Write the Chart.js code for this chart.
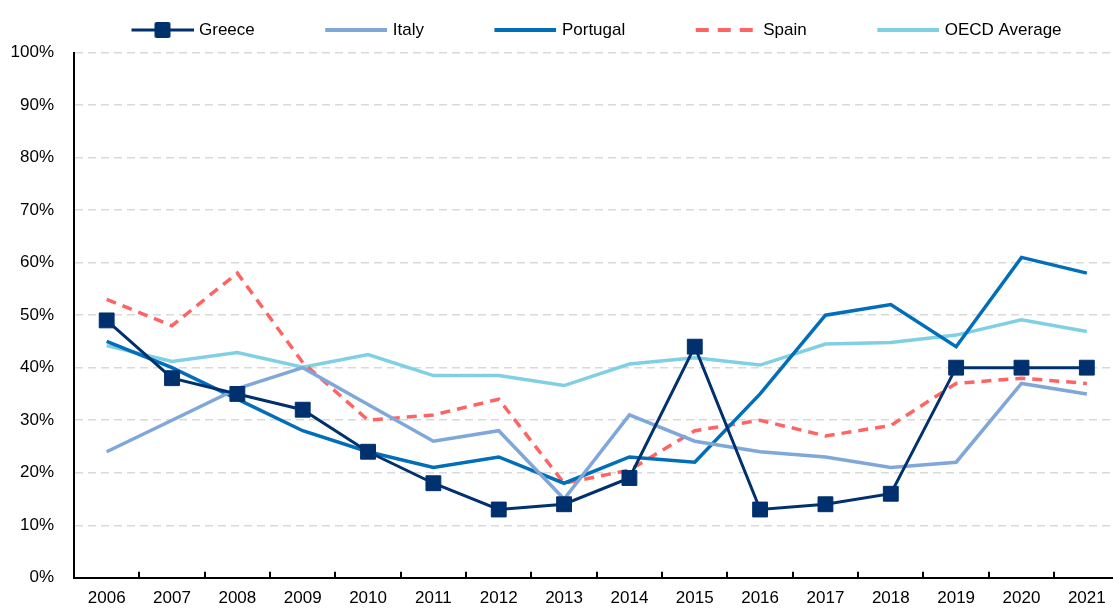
<!DOCTYPE html>
<html>
<head>
<meta charset="utf-8">
<title>Greece, Italy, Portugal, Spain and OECD average</title>
<script src="https://cdn.jsdelivr.net/npm/chart.js@4.4.1/dist/chart.umd.min.js"></script>
<style>
  html, body { margin: 0; padding: 0; background: #fff; overflow: hidden; }
  #wrap { position: relative; width: 1131px; height: 608px; }
</style>
</head>
<body>
<div id="wrap"><canvas id="chart" width="1131" height="608"></canvas></div>
<script>
const years = ['2006', '2007', '2008', '2009', '2010', '2011', '2012', '2013', '2014', '2015', '2016', '2017', '2018', '2019', '2020', '2021'];
const greece = [49, 38, 35, 32, 24, 18, 13, 14, 19, 44, 13, 14, 16, 40, 40, 40];
const italy = [24, 30, 36, 40, 33, 26, 28, 15, 31, 26, 24, 23, 21, 22, 37, 35];
const portugal = [45, 40, 34, 28, 24, 21, 23, 18, 23, 22, 35, 50, 52, 44, 61, 58];
const spain = [53, 48, 58, 41, 30, 31, 34, 18, 20.5, 28, 30, 27, 29, 37, 38, 37];
const oecd = [44.2, 41.2, 42.9, 40.1, 42.5, 38.5, 38.5, 36.6, 40.7, 41.9, 40.5, 44.5, 44.8, 46.2, 49.1, 46.9];
const yTicks = [0, 10, 20, 30, 40, 50, 60, 70, 80, 90, 100];

const NAVY = '#00306e';
const ITALY = '#7fa7da';
const PORTUGAL = '#006eb8';
const SPAIN = '#ff6464';
const OECD = '#80d0e4';

Chart.defaults.font.family = '"Liberation Sans", Arial, sans-serif';
Chart.defaults.font.size = 17;
Chart.defaults.color = '#000';

// legend icons: the transparent left part is the spacing between items,
// the icon is a bit wider than the legend box so the line ends close to the text
const BOX_W = 120;
const ICON_W = 126;
const LINE_X = 64;
const LEGEND_LEFT = 61;
const LEGEND_TOP = 12;
function makeIcon(color, width, dash, marker) {
  const c = document.createElement('canvas');
  c.width = ICON_W;
  c.height = 20;
  const ctx = c.getContext('2d');
  ctx.strokeStyle = color;
  ctx.lineWidth = width;
  ctx.setLineDash(dash);
  ctx.beginPath();
  ctx.moveTo(LINE_X, 10);
  ctx.lineTo(ICON_W, 10);
  ctx.stroke();
  if (marker) {
    const mx = LINE_X + (ICON_W - LINE_X) / 2;
    ctx.fillStyle = color;
    ctx.beginPath();
    if (ctx.roundRect) ctx.roundRect(mx - 8, 2, 16, 16, 2);
    else ctx.rect(mx - 8, 2, 16, 16);
    ctx.fill();
  }
  return c;
}
const legendIcons = [
  makeIcon(NAVY, 3, [], true),
  makeIcon(ITALY, 4, [], false),
  makeIcon(PORTUGAL, 4, [], false),
  makeIcon(SPAIN, 4, [13, 9], false),
  makeIcon(OECD, 4, [], false)
];

// move the legend row so it sits over the plot like the original
const legendShift = {
  id: 'legendShift',
  afterLayout(chart) {
    if (chart.legend) {
      chart.legend.left = LEGEND_LEFT;
      chart.legend.top = LEGEND_TOP;
    }
  }
};

new Chart(document.getElementById('chart'), {
  type: 'line',
  data: {
    labels: years,
    datasets: [
      {
        label: 'Greece',
        data: greece,
        borderColor: NAVY,
        backgroundColor: NAVY,
        borderWidth: 3,
        pointStyle: 'rect',
        pointRadius: 10.5,
        pointBorderWidth: 1,
        tension: 0
      },
      {
        label: 'Italy',
        data: italy,
        borderColor: ITALY,
        borderWidth: 3.5,
        pointRadius: 0,
        tension: 0
      },
      {
        label: 'Portugal',
        data: portugal,
        borderColor: PORTUGAL,
        borderWidth: 3.5,
        pointRadius: 0,
        tension: 0
      },
      {
        label: 'Spain',
        data: spain,
        borderColor: SPAIN,
        borderWidth: 3.5,
        borderDash: [10, 7],
        pointRadius: 0,
        tension: 0
      },
      {
        label: 'OECD Average',
        data: oecd,
        borderColor: OECD,
        borderWidth: 3.5,
        pointRadius: 0,
        tension: 0
      }
    ]
  },
  options: {
    responsive: false,
    animation: false,
    layout: { padding: { left: 8, right: 7, top: 16, bottom: 0 } },
    plugins: {
      tooltip: { enabled: false },
      legend: {
        align: 'start',
        labels: {
          usePointStyle: true,
          pointStyleWidth: BOX_W,
          padding: 9.5,
          color: '#000',
          font: { size: 17 },
          generateLabels: chart =>
            Chart.defaults.plugins.legend.labels.generateLabels(chart).map((item, i) => ({
              ...item,
              pointStyle: legendIcons[i]
            }))
        }
      }
    },
    scales: {
      x: {
        offset: true,
        afterFit: scale => { scale.height = 30; },
        grid: {
          offset: true,
          drawOnChartArea: false,
          color: '#000',
          lineWidth: 2,
          tickLength: -6
        },
        border: { color: '#000', width: 2 },
        ticks: { padding: 16, color: '#000', maxRotation: 0, autoSkip: false }
      },
      y: {
        min: 0,
        max: 100,
        afterFit: scale => { scale.width = 66; },
        afterBuildTicks: scale => { scale.ticks = yTicks.map(v => ({ value: v })); },
        ticks: {
          padding: 20,
          color: '#000',
          callback: v => v + '%'
        },
        grid: { drawTicks: false, color: '#d9d9d9', lineWidth: 1.5 },
        border: { color: '#000', width: 2, dash: [8, 5] }
      }
    }
  },
  plugins: [legendShift]
});
</script>
</body>
</html>
